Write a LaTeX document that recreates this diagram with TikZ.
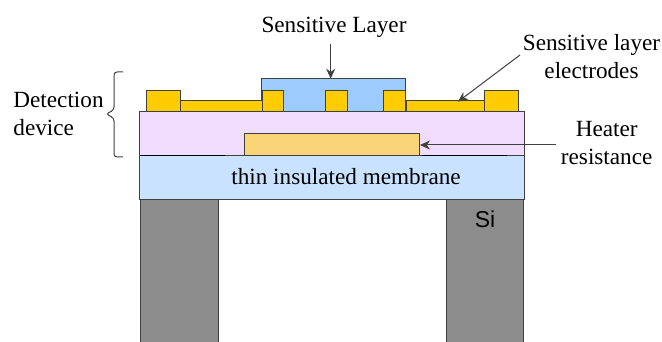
\documentclass[tikz,border=0pt]{standalone}
\usepackage{fontspec}
\setmainfont{Liberation Serif}
\newfontfamily\sifont{Liberation Sans}
\usetikzlibrary{arrows.meta,positioning}
\definecolor{edgegrey}{HTML}{404040}
\definecolor{padgold}{HTML}{FFCC00}
\definecolor{heatergold}{HTML}{FAD577}
\definecolor{stackpurple}{HTML}{F0DCFC}
\definecolor{membraneblue}{HTML}{C8E2FF}
\definecolor{sensblue}{HTML}{9CCBFF}
\definecolor{sigrey}{HTML}{8C8C8C}

\begin{document}
\begin{tikzpicture}[
        x=1pt, y=-1pt,
        every node/.style={font=\fontsize{23.2}{28}\selectfont},
        layer/.style={draw=edgegrey, line width=1pt, rectangle, inner sep=0pt, outer sep=0pt, anchor=north west},
        pad/.style={layer, fill=padgold, minimum height=21pt},
        thinpad/.style={layer, fill=padgold, minimum height=11pt},
        label/.style={align=center, inner sep=0pt, anchor=base},
        arrow/.style={-{Stealth[length=10pt,width=9pt]}, line width=1pt, draw=edgegrey},
        contact/.style={line width=1.3pt, black}
    ]
        \useasboundingbox (0,0) rectangle (662,342);

        % Silicon legs
        \node[layer, fill=sigrey, minimum width=78pt, minimum height=143pt] (legleft) at (140,200) {};
        \node[layer, fill=sigrey, minimum width=77pt, minimum height=143pt] (legright) at (446,200) {};

        % Stack
        \node[layer, fill=membraneblue, minimum width=384.5pt, minimum height=43.5pt] (membrane) at (139.5,156) {};
        \node[layer, fill=stackpurple, minimum width=384.5pt, minimum height=44pt] (stack) at (139.5,112) {};
        \node[layer, fill=heatergold, minimum width=175.5pt, minimum height=22.3pt] (heater) at (244.3,133.7) {};
        \node[layer, fill=sensblue, minimum width=144.7pt, minimum height=33.3pt] (sensbox) at (261,78.7) {};

        % Electrodes
        \node[thinpad, minimum width=82pt] (thinleft) at (180.5,101) {};
        \node[thinpad, minimum width=78pt] (thinright) at (406,101) {};
        \node[pad, minimum width=34pt] (padone) at (146.5,91) {};
        \node[pad, minimum width=21pt] (padtwo) at (262,91) {};
        \node[pad, minimum width=22pt] (padthree) at (325,91) {};
        \node[pad, minimum width=22.7pt] (padfour) at (383,91) {};
        \node[pad, minimum width=34.7pt] (padfive) at (484,91) {};

        % Contacts under the heater
        \coordinate (contactonea) at (140,155.2);
        \coordinate (contactoneb) at (225,155.2);
        \coordinate (contacttwoa) at (421.7,155.2);
        \coordinate (contacttwob) at (507,155.2);
        \draw[contact] (contactonea) -- (contactoneb);
        \draw[contact] (contacttwoa) -- (contacttwob);

        % Labels
        \node[label] (senslabel) at (334,32.5) {Sensitive Layer};
        \node[label] (electrodelabel) at (591.5,79) {Sensitive layer\\electrodes};
        \node[label] (heaterlabel) at (606.7,164.5) {Heater\\resistance};
        \node[label, align=left] (devicelabel) at (58.5,136) {Detection\\device};
        \node[label] (membranelabel) at (346,185) {thin insulated membrane};
        \node[label, font=\fontsize{23}{28}\selectfont\sifont] (silabel) at (485,228) {Si};

        % Arrows
        \coordinate (senstail) at (330.7,44);
        \coordinate (senstip) at (330.7,78.7);
        \coordinate (electrodetail) at (520,55);
        \coordinate (electrodetip) at (458,101.7);
        \coordinate (heatertail) at (556,145);
        \coordinate (heatertip) at (420,145);
        \draw[arrow] (senstail) -- (senstip);
        \draw[arrow] (electrodetail) -- (electrodetip);
        \draw[arrow] (heatertail) -- (heatertip);

        % Brace
        \coordinate (bracetop) at (123,72);
        \coordinate (bracebot) at (123,157);
        \coordinate (bracetip) at (106,114);
        \draw[line width=1pt, draw=edgegrey, rounded corners=3pt] (bracetop) -- (114,72) -- (114,110) -- (bracetip) -- (114,118) -- (114,157) -- (bracebot);
    \end{tikzpicture}
\end{document}
